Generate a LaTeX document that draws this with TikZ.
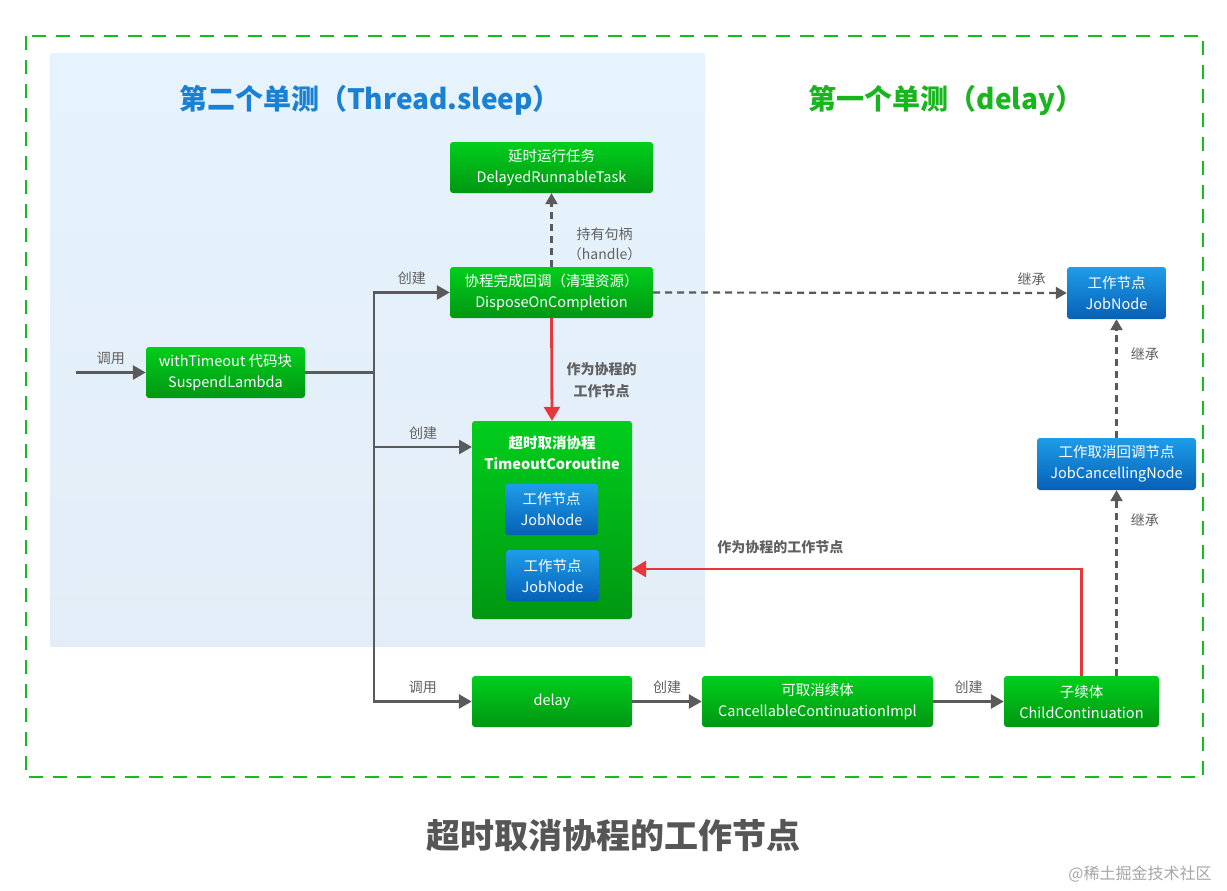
\documentclass[tikz,border=0pt]{standalone}
\usepackage{fontspec}
\setmainfont{Noto Sans CJK SC}
\usetikzlibrary{positioning,arrows.meta,calc}
\definecolor{gtop}{HTML}{00CE1C}
\definecolor{gbot}{HTML}{009712}
\definecolor{btop}{HTML}{1E9DE9}
\definecolor{bbot}{HTML}{0660B6}
\definecolor{linegray}{HTML}{5A5A5A}
\definecolor{txtgray}{HTML}{606060}
\definecolor{redline}{HTML}{E8373B}
\definecolor{framegreen}{HTML}{14BD1C}
\definecolor{titleblue}{HTML}{1A80D2}
\definecolor{titlegreen}{HTML}{19B51E}
\definecolor{paneltop}{HTML}{E6F3FC}
\definecolor{panelbot}{HTML}{E3EDF7}
\tikzset{
  greenbox/.style={rounded corners=3pt, top color=gtop, bottom color=gbot, text=white,
    align=center, inner sep=0pt, font=\fontsize{14.5}{21}\selectfont},
  bluebox/.style={greenbox, top color=btop, bottom color=bbot},
  flow/.style={line width=2.8pt, draw=linegray, -{Triangle[length=13pt,width=14pt]}},
  plain/.style={line width=2.8pt, draw=linegray},
  inherit/.style={line width=2.2pt, draw=linegray, dash pattern=on 7pt off 5pt,
    -{Triangle[length=11pt,width=12pt]}},
  worknode/.style={line width=2.8pt, draw=redline, -{Triangle[length=14pt,width=16pt]}},
  lbl/.style={text=txtgray, font=\fontsize{14}{20}\selectfont, align=center},
  boldlbl/.style={text=txtgray, font=\bfseries\fontsize{14}{22}\selectfont, align=center}
}
\begin{document}
\begin{tikzpicture}[x=1pt, y=-1pt]
  \useasboundingbox (0,0) rectangle (1227,891);
  \fill[white] (0,0) rectangle (1227,891);
  % backgrounds
  \fill[top color=paneltop, bottom color=panelbot] (50,54) rectangle (705,646);
  \draw[framegreen, line width=2.6pt, dash pattern=on 14pt off 10pt] (26,36) rectangle (1203,777);
  \node[text=titleblue, font=\bfseries\fontsize{28}{32}\selectfont] (ttl2) at (370,100) {第二个单测（Thread.sleep）};
  \node[text=titlegreen, font=\bfseries\fontsize{28}{32}\selectfont] (ttl1) at (946,100) {第一个单测（delay）};

  % nodes
  \node[greenbox, minimum width=203pt, minimum height=51pt] (drt) at (551.5,167.5) {延时运行任务\\DelayedRunnableTask};
  \node[greenbox, minimum width=203pt, minimum height=51pt] (doc) at (551.5,292.5) {协程完成回调（清理资源）\\DisposeOnCompletion};
  \node[greenbox, minimum width=159pt, minimum height=51pt] (wt) at (225.5,372.5) {withTimeout 代码块\\SuspendLambda};
  \node[greenbox, minimum width=160pt, minimum height=198pt] (tc) at (552,520) {};
  \node[text=white, font=\bfseries\fontsize{14.5}{21}\selectfont, align=center] (tcname) at (552,452.5) {超时取消协程\\TimeoutCoroutine};
  \node[bluebox, minimum width=93pt, minimum height=51pt] (jn1) at (551.5,509.5) {工作节点\\JobNode};
  \node[bluebox, minimum width=93pt, minimum height=51pt] (jn2) at (552.5,575.5) {工作节点\\JobNode};
  \node[greenbox, minimum width=160pt, minimum height=51pt] (delay) at (552,701.5) {delay};
  \node[greenbox, minimum width=231pt, minimum height=51pt] (cci) at (817.5,701.5) {可取消续体\\CancellableContinuationImpl};
  \node[greenbox, minimum width=155pt, minimum height=51pt] (child) at (1081.5,701.5) {子续体\\ChildContinuation};
  \node[bluebox, minimum width=99pt, minimum height=52pt] (jn) at (1116.5,293) {工作节点\\JobNode};
  \node[bluebox, minimum width=159pt, minimum height=52pt] (jcn) at (1116.5,464) {工作取消回调节点\\JobCancellingNode};

  % connectors
  \coordinate (entry) at (76,372.5);
  \coordinate (split) at (374,372.5);
  \coordinate (tcin) at (472,447);
  \coordinate (tcout) at (632,569);
  \coordinate (turn) at (1081.5,569);
  \draw[flow] (entry) -- (wt.west) node[lbl, midway, above=3pt] {调用};
  \draw[plain] (wt.east) -- (split);
  \draw[flow] (split) |- (doc.west) node[lbl, pos=0.75, above=3pt] {创建};
  \draw[flow] (split) |- (tcin) node[lbl, pos=0.75, above=3pt] {创建};
  \draw[flow] (split) |- (delay.west) node[lbl, pos=0.75, above=3pt] {调用};
  \draw[inherit] (doc.north) -- (drt.south) node[lbl, pos=0.3, right=12pt] {持有句柄\\（handle）};
  \draw[worknode] (doc.south) -- (tc.north) node[boldlbl, pos=0.6, right=10pt] {作为协程的\\工作节点};
  \draw[inherit] (doc.east) -- (jn.west) node[lbl, pos=0.915, above=3pt] {继承};
  \draw[inherit] (jcn.north) -- (jn.south) node[lbl, pos=0.71, right=10pt] {继承};
  \draw[inherit] (child.north -| jcn.south) -- (jcn.south) node[lbl, pos=0.84, right=10pt] {继承};
  \draw[worknode] (child.north) -- (turn) -- (tcout) node[boldlbl, pos=0.67, above=10pt] {作为协程的工作节点};
  \draw[flow] (delay.east) -- (cci.west) node[lbl, midway, above=3pt] {创建};
  \draw[flow] (cci.east) -- (child.west) node[lbl, midway, above=3pt] {创建};

  % captions
  \node[text=txtgray!90!black, font=\bfseries\fontsize{34}{38}\selectfont] (caption) at (613,836) {超时取消协程的工作节点};
  \node[text=gray!70, font=\fontsize{16}{18}\selectfont] (mark) at (1140,874) {@稀土掘金技术社区};
\end{tikzpicture}
\end{document}
